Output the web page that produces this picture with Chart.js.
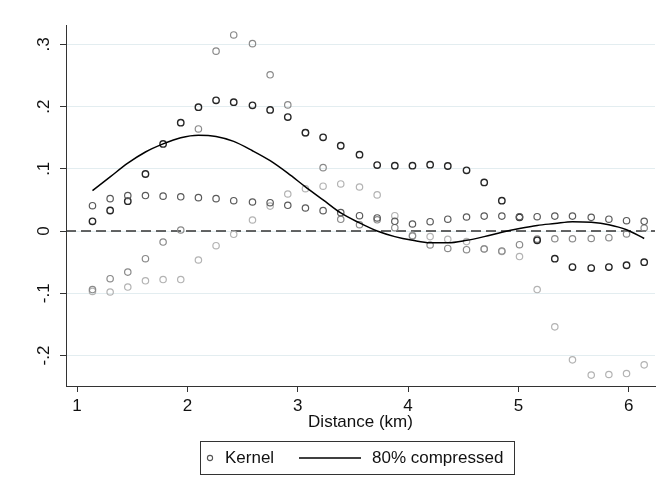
<!DOCTYPE html>
<html>
<head>
<meta charset="utf-8">
<script src="https://cdn.jsdelivr.net/npm/chart.js@4"></script>
<style>
    html, body { margin: 0; padding: 0; background: #fff; }
    #kernel-chart { display: block; }
</style>
</head>
<body>
<canvas id="kernel-chart" width="668" height="492"></canvas>
<script>
// distance bins (km)
const distanceKm = [1.14, 1.30, 1.46, 1.62, 1.78, 1.94, 2.10, 2.26, 2.42, 2.59, 2.75, 2.91, 3.07, 3.23, 3.39, 3.56,
                    3.72, 3.88, 4.04, 4.20, 4.36, 4.53, 4.69, 4.85, 5.01, 5.17, 5.33, 5.49, 5.66, 5.82, 5.98, 6.14];

// kernel estimates, one array per marker shade
const kernelA = [0.0156, 0.033, 0.048, 0.0916, 0.140, 0.174, 0.199, 0.210, 0.207, 0.202, 0.1945, 0.183, 0.158, 0.1506, 0.137, 0.1227,
                 0.106, 0.105, 0.105, 0.1066, 0.1045, 0.0975, 0.078, 0.0487, 0.022, -0.015, -0.0445, -0.058, -0.0595, -0.058, -0.055, -0.050];
const kernelB = [0.0407, 0.052, 0.057, 0.057, 0.056, 0.055, 0.0536, 0.052, 0.0487, 0.0466, 0.0455, 0.0413, 0.037, 0.0327, 0.0295, 0.0246,
                 0.021, 0.0156, 0.0113, 0.015, 0.019, 0.0225, 0.024, 0.024, 0.023, 0.023, 0.024, 0.024, 0.022, 0.019, 0.0166, 0.0156];
const kernelC = [-0.094, -0.0766, -0.066, -0.0445, -0.0177, 0.0016, 0.164, 0.289, 0.315, 0.301, 0.251, 0.2026, 0.158, 0.1018, 0.0188, 0.0101,
                 0.018, 0.0053, -0.008, -0.0225, -0.028, -0.030, -0.029, -0.032, -0.022, -0.013, -0.0124, -0.0124, -0.012, -0.0107, -0.0048, 0.0048];
const kernelD = [-0.097, -0.098, -0.090, -0.080, -0.078, -0.078, -0.0466, -0.0236, -0.0053, 0.0177, 0.040, 0.0595, 0.068, 0.072, 0.0756, 0.0707,
                 0.058, 0.0246, -0.007, -0.009, -0.0134, -0.017, -0.0284, -0.033, -0.041, -0.094, -0.154, -0.207, -0.2315, -0.2305, -0.229, -0.215];

// 80% compressed fit
const compressed = [0.065, 0.087, 0.109, 0.127, 0.140, 0.150, 0.154, 0.152, 0.144, 0.129, 0.113, 0.093, 0.071, 0.050, 0.029, 0.013,
                    0.000, -0.009, -0.015, -0.019, -0.019, -0.015, -0.009, -0.002, 0.004, 0.009, 0.012, 0.015, 0.014, 0.010, 0.002, -0.012];

const xTicks = [1, 2, 3, 4, 5, 6];
const yTicks = [-0.2, -0.1, 0, 0.1, 0.2, 0.3];
const yTickLabels = ['-.2', '-.1', '0', '.1', '.2', '.3'];
const X_MIN = 0.90, X_MAX = 6.238;
const Y_MIN = -0.249, Y_MAX = 0.331;

const FONT = 'Liberation Sans, Arial, sans-serif';
const FONT_SIZE = 17;

function toPoints(ys) {
    return distanceKm.map((x, i) => ({ x: x, y: ys[i] }));
}

function markerSet(label, ys, color, width) {
    return {
        type: 'scatter',
        label: label,
        data: toPoints(ys),
        showLine: false,
        pointStyle: 'circle',
        pointRadius: 3.2,
        pointHoverRadius: 3.2,
        pointBorderWidth: width,
        pointBorderColor: color,
        pointBackgroundColor: 'rgba(0,0,0,0)',
        borderColor: color,
        backgroundColor: 'rgba(0,0,0,0)'
    };
}

// boxed legend under the axis title, Stata style
const boxLegend = {
    id: 'boxLegend',
    afterDraw(chart) {
        const ctx = chart.ctx;
        const kernel = chart.data.datasets[0];
        const fit = chart.data.datasets[4];
        const cy = 458;
        ctx.save();
        ctx.strokeStyle = '#333';
        ctx.lineWidth = 1;
        ctx.strokeRect(200.5, 441.5, 314, 33);

        ctx.beginPath();
        ctx.arc(210, cy, 2.6, 0, Math.PI * 2);
        ctx.strokeStyle = '#555';
        ctx.lineWidth = 1.1;
        ctx.stroke();

        ctx.fillStyle = '#111';
        ctx.font = FONT_SIZE + 'px ' + FONT;
        ctx.textBaseline = 'middle';
        ctx.textAlign = 'left';
        ctx.fillText(kernel.label, 225, cy);

        ctx.beginPath();
        ctx.moveTo(299, cy);
        ctx.lineTo(361, cy);
        ctx.strokeStyle = fit.borderColor;
        ctx.lineWidth = fit.borderWidth;
        ctx.stroke();
        ctx.fillText(fit.label, 372, cy);
        ctx.restore();
    }
};

function initChart() {
    const ctx = document.getElementById('kernel-chart').getContext('2d');
    return new Chart(ctx, {
        type: 'scatter',
        data: {
            datasets: [
                markerSet('Kernel', kernelB, '#5a5a5a', 1.2),
                markerSet('Kernel (a)', kernelA, '#262626', 1.4),
                markerSet('Kernel (c)', kernelC, '#8a8a8a', 1.2),
                markerSet('Kernel (d)', kernelD, '#b3b3b3', 1.2),
                {
                    type: 'line',
                    label: '80% compressed',
                    data: toPoints(compressed),
                    borderColor: '#000',
                    borderWidth: 1.5,
                    pointRadius: 0,
                    cubicInterpolationMode: 'monotone',
                    fill: false,
                    order: -1
                },
                {
                    type: 'line',
                    label: 'zero',
                    data: [{ x: X_MIN, y: 0 }, { x: X_MAX, y: 0 }],
                    borderColor: '#333',
                    borderWidth: 1.5,
                    borderDash: [10, 5],
                    pointRadius: 0,
                    fill: false,
                    order: 5
                }
            ]
        },
        options: {
            responsive: false,
            animation: false,
            layout: { padding: { left: 0, right: 13, top: 25, bottom: 0 } },
            scales: {
                x: {
                    type: 'linear',
                    min: X_MIN,
                    max: X_MAX,
                    afterBuildTicks: scale => { scale.ticks = xTicks.map(v => ({ value: v })); },
                    afterFit: scale => { scale.height = 106; },
                    grid: { drawOnChartArea: false, tickLength: 6, tickColor: '#333', tickWidth: 1 },
                    border: { color: '#333', width: 1 },
                    ticks: { color: '#111', font: { family: FONT, size: FONT_SIZE }, padding: 4, maxRotation: 0 },
                    title: {
                        display: true,
                        text: 'Distance (km)',
                        color: '#111',
                        font: { family: FONT, size: FONT_SIZE },
                        padding: { top: 0, bottom: 59 }
                    }
                },
                y: {
                    type: 'linear',
                    min: Y_MIN,
                    max: Y_MAX,
                    afterBuildTicks: scale => { scale.ticks = yTicks.map(v => ({ value: v })); },
                    afterFit: scale => { scale.width = 66; },
                    grid: { color: '#e3edf0', lineWidth: 1, tickLength: 6, tickColor: '#333', tickWidth: 1 },
                    border: { color: '#333', width: 1 },
                    ticks: {
                        color: '#111',
                        font: { family: FONT, size: FONT_SIZE },
                        padding: 6,
                        minRotation: 90,
                        maxRotation: 90,
                        crossAlign: 'center',
                        callback: value => yTickLabels[yTicks.indexOf(value)]
                    }
                }
            },
            plugins: {
                legend: { display: false },
                tooltip: { enabled: false }
            }
        },
        plugins: [boxLegend]
    });
}

window.onload = () => {
    initChart();
};
</script>
</body>
</html>
